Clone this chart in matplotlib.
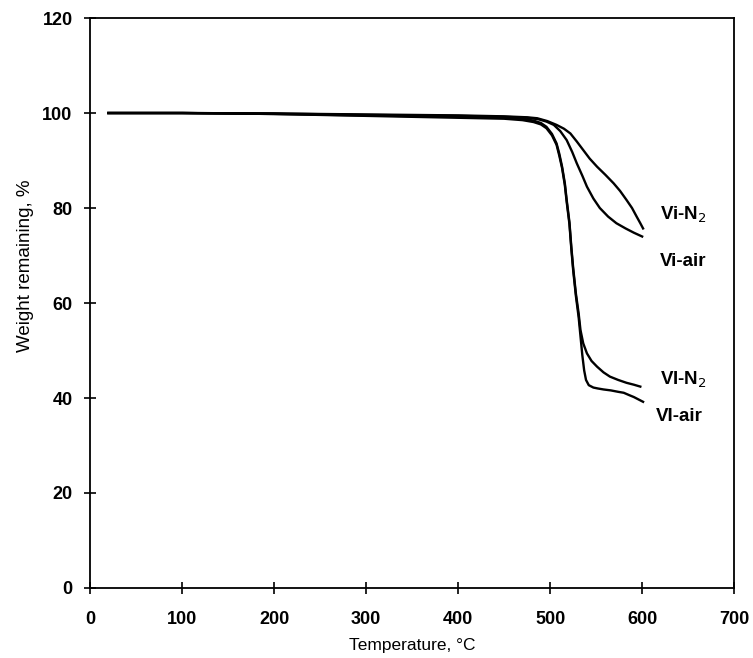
import numpy as np
import matplotlib
matplotlib.use('Agg')
import matplotlib.pyplot as plt

plt.rcParams['font.family'] = ['Liberation Sans', 'DejaVu Sans']

# TGA curves (temperature in C, weight remaining in %)
t_vi_n2 = [20, 100, 200, 300, 400, 450, 475, 486, 497, 507, 515, 522, 529, 536, 543,
           551, 560, 569, 576, 583, 589, 594, 598, 601]
w_vi_n2 = [100, 100, 99.9, 99.7, 99.5, 99.3, 99.1, 98.9, 98.3, 97.5, 96.7, 95.7, 94.0, 92.2, 90.4,
           88.7, 87.0, 85.2, 83.6, 81.7, 80.0, 78.2, 76.8, 75.7]

t_vi_air = [20, 100, 200, 300, 400, 450, 475, 487, 496, 504, 511, 518, 524, 529, 535,
            540, 547, 554, 563, 572, 582, 591, 600]
w_vi_air = [100, 100, 99.9, 99.6, 99.4, 99.2, 99.0, 98.7, 98.2, 97.5, 96.2, 94.3, 91.8, 89.4, 86.8,
            84.5, 82.0, 80.0, 78.2, 76.8, 75.7, 74.8, 74.0]

t_VI_n2 = [20, 100, 200, 300, 400, 450, 470, 482, 490, 496, 502, 507, 510, 513, 516, 518,
           521, 523, 525, 528, 531, 533, 536, 540, 545, 551, 558, 565, 574, 583, 591, 598]
w_VI_n2 = [100, 100, 99.8, 99.5, 99.2, 99.0, 98.8, 98.4, 97.9, 97.1, 95.6, 93.6, 91.4, 88.7, 85.2, 81.7,
           77.0, 71.9, 67.5, 62.0, 57.8, 54.3, 51.5, 49.4, 47.8, 46.6, 45.4, 44.5, 43.8, 43.2, 42.8, 42.4]

t_VI_air = [20, 100, 200, 300, 400, 450, 470, 482, 490, 496, 502, 507, 510, 513, 516, 518,
            521, 523, 525, 528, 531, 533, 535, 537, 539, 542, 547, 552, 558, 566, 574, 580, 586, 591, 596, 601]
w_VI_air = [100, 100, 99.8, 99.4, 99.0, 98.8, 98.5, 98.1, 97.6, 96.8, 95.3, 93.3, 91.0, 88.4, 84.8, 81.3,
            76.6, 71.5, 67.0, 61.5, 57.0, 53.0, 49.0, 45.8, 43.8, 42.7, 42.2, 42.0, 41.8, 41.6, 41.3, 41.1,
            40.6, 40.2, 39.7, 39.2]

labels = ['Vi-N$_2$', 'Vi-air', 'VI-N$_2$', 'VI-air']
label_x = [619, 619, 619, 615]
label_y = [78.5, 68.7, 43.8, 36.1]

fig = plt.figure(figsize=(7.53, 6.58), dpi=100)
ax = fig.add_axes([0.1195, 0.1064, 0.8555, 0.8662])

for t, w in [(t_vi_n2, w_vi_n2), (t_vi_air, w_vi_air), (t_VI_n2, w_VI_n2), (t_VI_air, w_VI_air)]:
    ax.plot(t, w, color='black', linewidth=1.7, solid_joinstyle='round')

for lab, x, y in zip(labels, label_x, label_y):
    ax.text(x, y, lab, fontsize=13.5, fontweight='bold', va='center', ha='left')

ax.set_xlim(0, 700)
ax.set_ylim(0, 120)
ax.set_xticks(np.arange(0, 701, 100))
ax.set_yticks(np.arange(0, 121, 20))
ax.tick_params(direction='inout', length=9, width=1.2, labelsize=13)
ax.tick_params(axis='x', pad=12)
ax.tick_params(axis='y', pad=8)
for lbl in ax.get_xticklabels() + ax.get_yticklabels():
    lbl.set_fontweight('bold')
for s in ax.spines.values():
    s.set_linewidth(1.3)

ax.set_xlabel('Temperature, °C', fontsize=12.5)
ax.xaxis.set_label_coords(0.5, -0.088)
ax.set_ylabel('Weight remaining, %', fontsize=13.5)
ax.yaxis.set_label_coords(-0.087, 0.565)

fig.savefig('out.png', dpi=100)
